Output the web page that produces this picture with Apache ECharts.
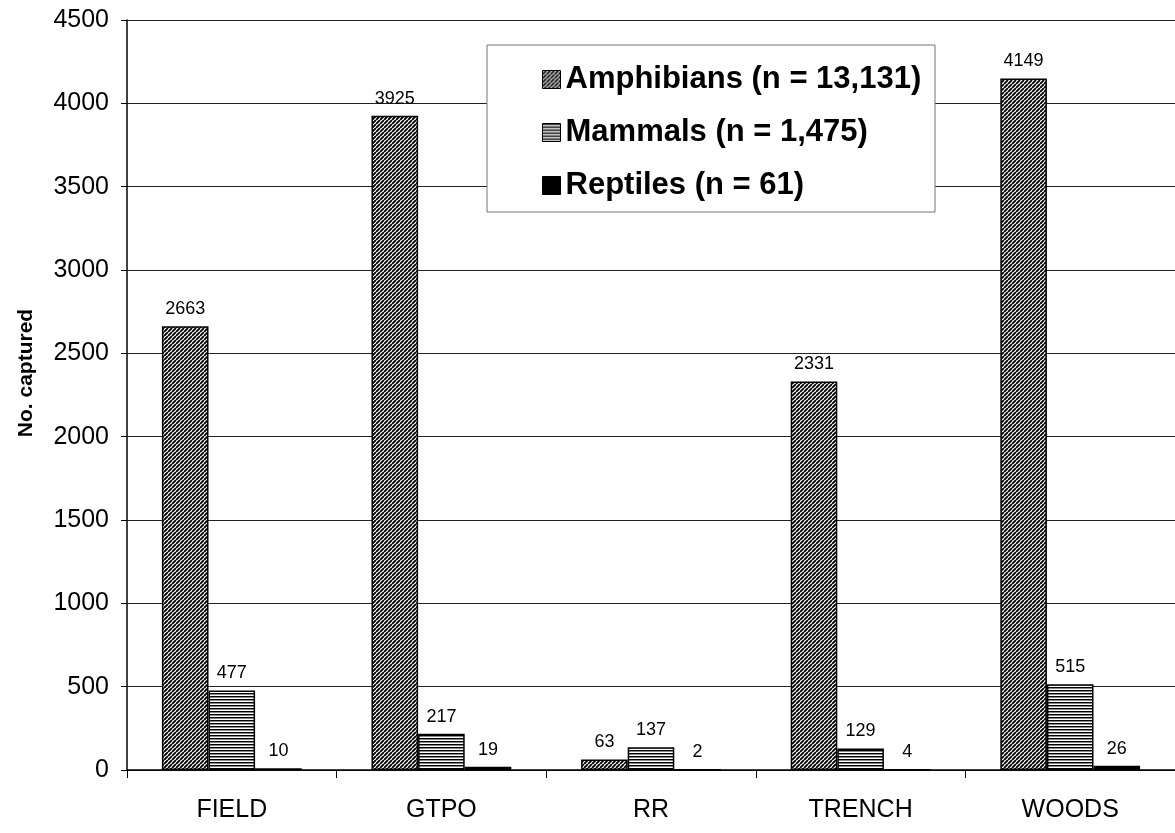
<!DOCTYPE html>
<html>
<head>
<meta charset="utf-8">
<script src="https://cdn.jsdelivr.net/npm/echarts@6/dist/echarts.min.js"></script>
<style>
  html, body { margin: 0; padding: 0; background: #fff; }
  #chart { width: 1175px; height: 833px; }
</style>
</head>
<body>
<div id="chart"></div>
<script>
// Captures per habitat
const habitats = ['FIELD', 'GTPO', 'RR', 'TRENCH', 'WOODS'];
const amphibians = [2663, 3925, 63, 2331, 4149];
const mammals = [477, 217, 137, 129, 515];
const reptiles = [10, 19, 2, 4, 26];
const seriesNames = ['Amphibians (n = 13,131)', 'Mammals (n = 1,475)', 'Reptiles (n = 61)'];
const yTicks = [0, 500, 1000, 1500, 2000, 2500, 3000, 3500, 4000, 4500];

const FONT = '"Liberation Sans", Arial, sans-serif';

// Diagonal "/" hatching
function diagonalPattern() {
  const s = 4;
  const c = document.createElement('canvas');
  c.width = s; c.height = s;
  const g = c.getContext('2d');
  g.fillStyle = '#fff';
  g.fillRect(0, 0, s, s);
  g.strokeStyle = '#000';
  g.lineWidth = 1.9;
  g.beginPath();
  for (let k = -1; k <= 1; k++) {
    g.moveTo(k * s, s);
    g.lineTo(k * s + s, 0);
  }
  g.stroke();
  return c;
}

// Horizontal line fill
function horizontalPattern() {
  const c = document.createElement('canvas');
  c.width = 4; c.height = 3;
  const g = c.getContext('2d');
  g.fillStyle = '#fff';
  g.fillRect(0, 0, 4, 3);
  g.fillStyle = '#000';
  g.fillRect(0, 0, 4, 1);
  g.fillStyle = '#888';
  g.fillRect(0, 1, 4, 1);
  return c;
}

const amphFill = { image: diagonalPattern(), repeat: 'repeat' };
const mammFill = { image: horizontalPattern(), repeat: 'repeat' };

const labelStyle = {
  show: true,
  position: 'top',
  distance: 8,
  color: '#000',
  fontSize: 18,
  fontFamily: FONT
};

function barSeries(name, data, fill) {
  return {
    name: name,
    type: 'bar',
    data: data,
    barGap: '0%',
    barCategoryGap: '33.3%',
    itemStyle: { color: fill, borderColor: '#000', borderWidth: 1.5 },
    label: labelStyle
  };
}

const chart = echarts.init(document.getElementById('chart'), null, { renderer: 'canvas' });
chart.setOption({
  animation: false,
  backgroundColor: '#fff',
  grid: { left: 127, right: 0, top: 20, bottom: 63 },
  legend: {
    orient: 'vertical',
    left: 542,
    top: 64,
    padding: 0,
    itemGap: 22,
    itemWidth: 18,
    itemHeight: 18,
    icon: 'rect',
    selectedMode: false,
    itemStyle: { borderColor: '#000', borderWidth: 1 },
    textStyle: { fontSize: 31, fontWeight: 'bold', color: '#000', fontFamily: FONT, lineHeight: 31 },
    data: seriesNames
  },
  graphic: [{
    type: 'rect',
    z: 3,
    shape: { x: 487, y: 45, width: 448, height: 167 },
    style: { fill: '#fff', stroke: '#777', lineWidth: 1 }
  }],
  xAxis: {
    type: 'category',
    data: habitats,
    axisLine: { lineStyle: { color: '#000', width: 1.5 } },
    axisTick: { show: true, length: 8, lineStyle: { color: '#000' } },
    axisLabel: { color: '#000', fontSize: 25, fontFamily: FONT, margin: 28 }
  },
  yAxis: {
    type: 'value',
    min: 0,
    max: 4500,
    interval: 500,
    name: 'No. captured',
    nameLocation: 'middle',
    nameGap: 90,
    nameTextStyle: {
      fontSize: 21, fontWeight: 'bold', color: '#000', fontFamily: FONT,
      padding: [0, 0, 0, 44]
    },
    axisLine: { show: true, lineStyle: { color: '#000', width: 1.5 } },
    axisTick: { show: true, length: 6, lineStyle: { color: '#000' } },
    splitLine: { show: true, lineStyle: { color: '#222', width: 1 } },
    axisLabel: {
      color: '#000', fontSize: 25, fontFamily: FONT, margin: 18,
      formatter: v => (yTicks.includes(v) ? String(v) : '')
    }
  },
  series: [
    barSeries(seriesNames[0], amphibians, amphFill),
    barSeries(seriesNames[1], mammals, mammFill),
    barSeries(seriesNames[2], reptiles, '#000')
  ]
});
</script>
</body>
</html>
